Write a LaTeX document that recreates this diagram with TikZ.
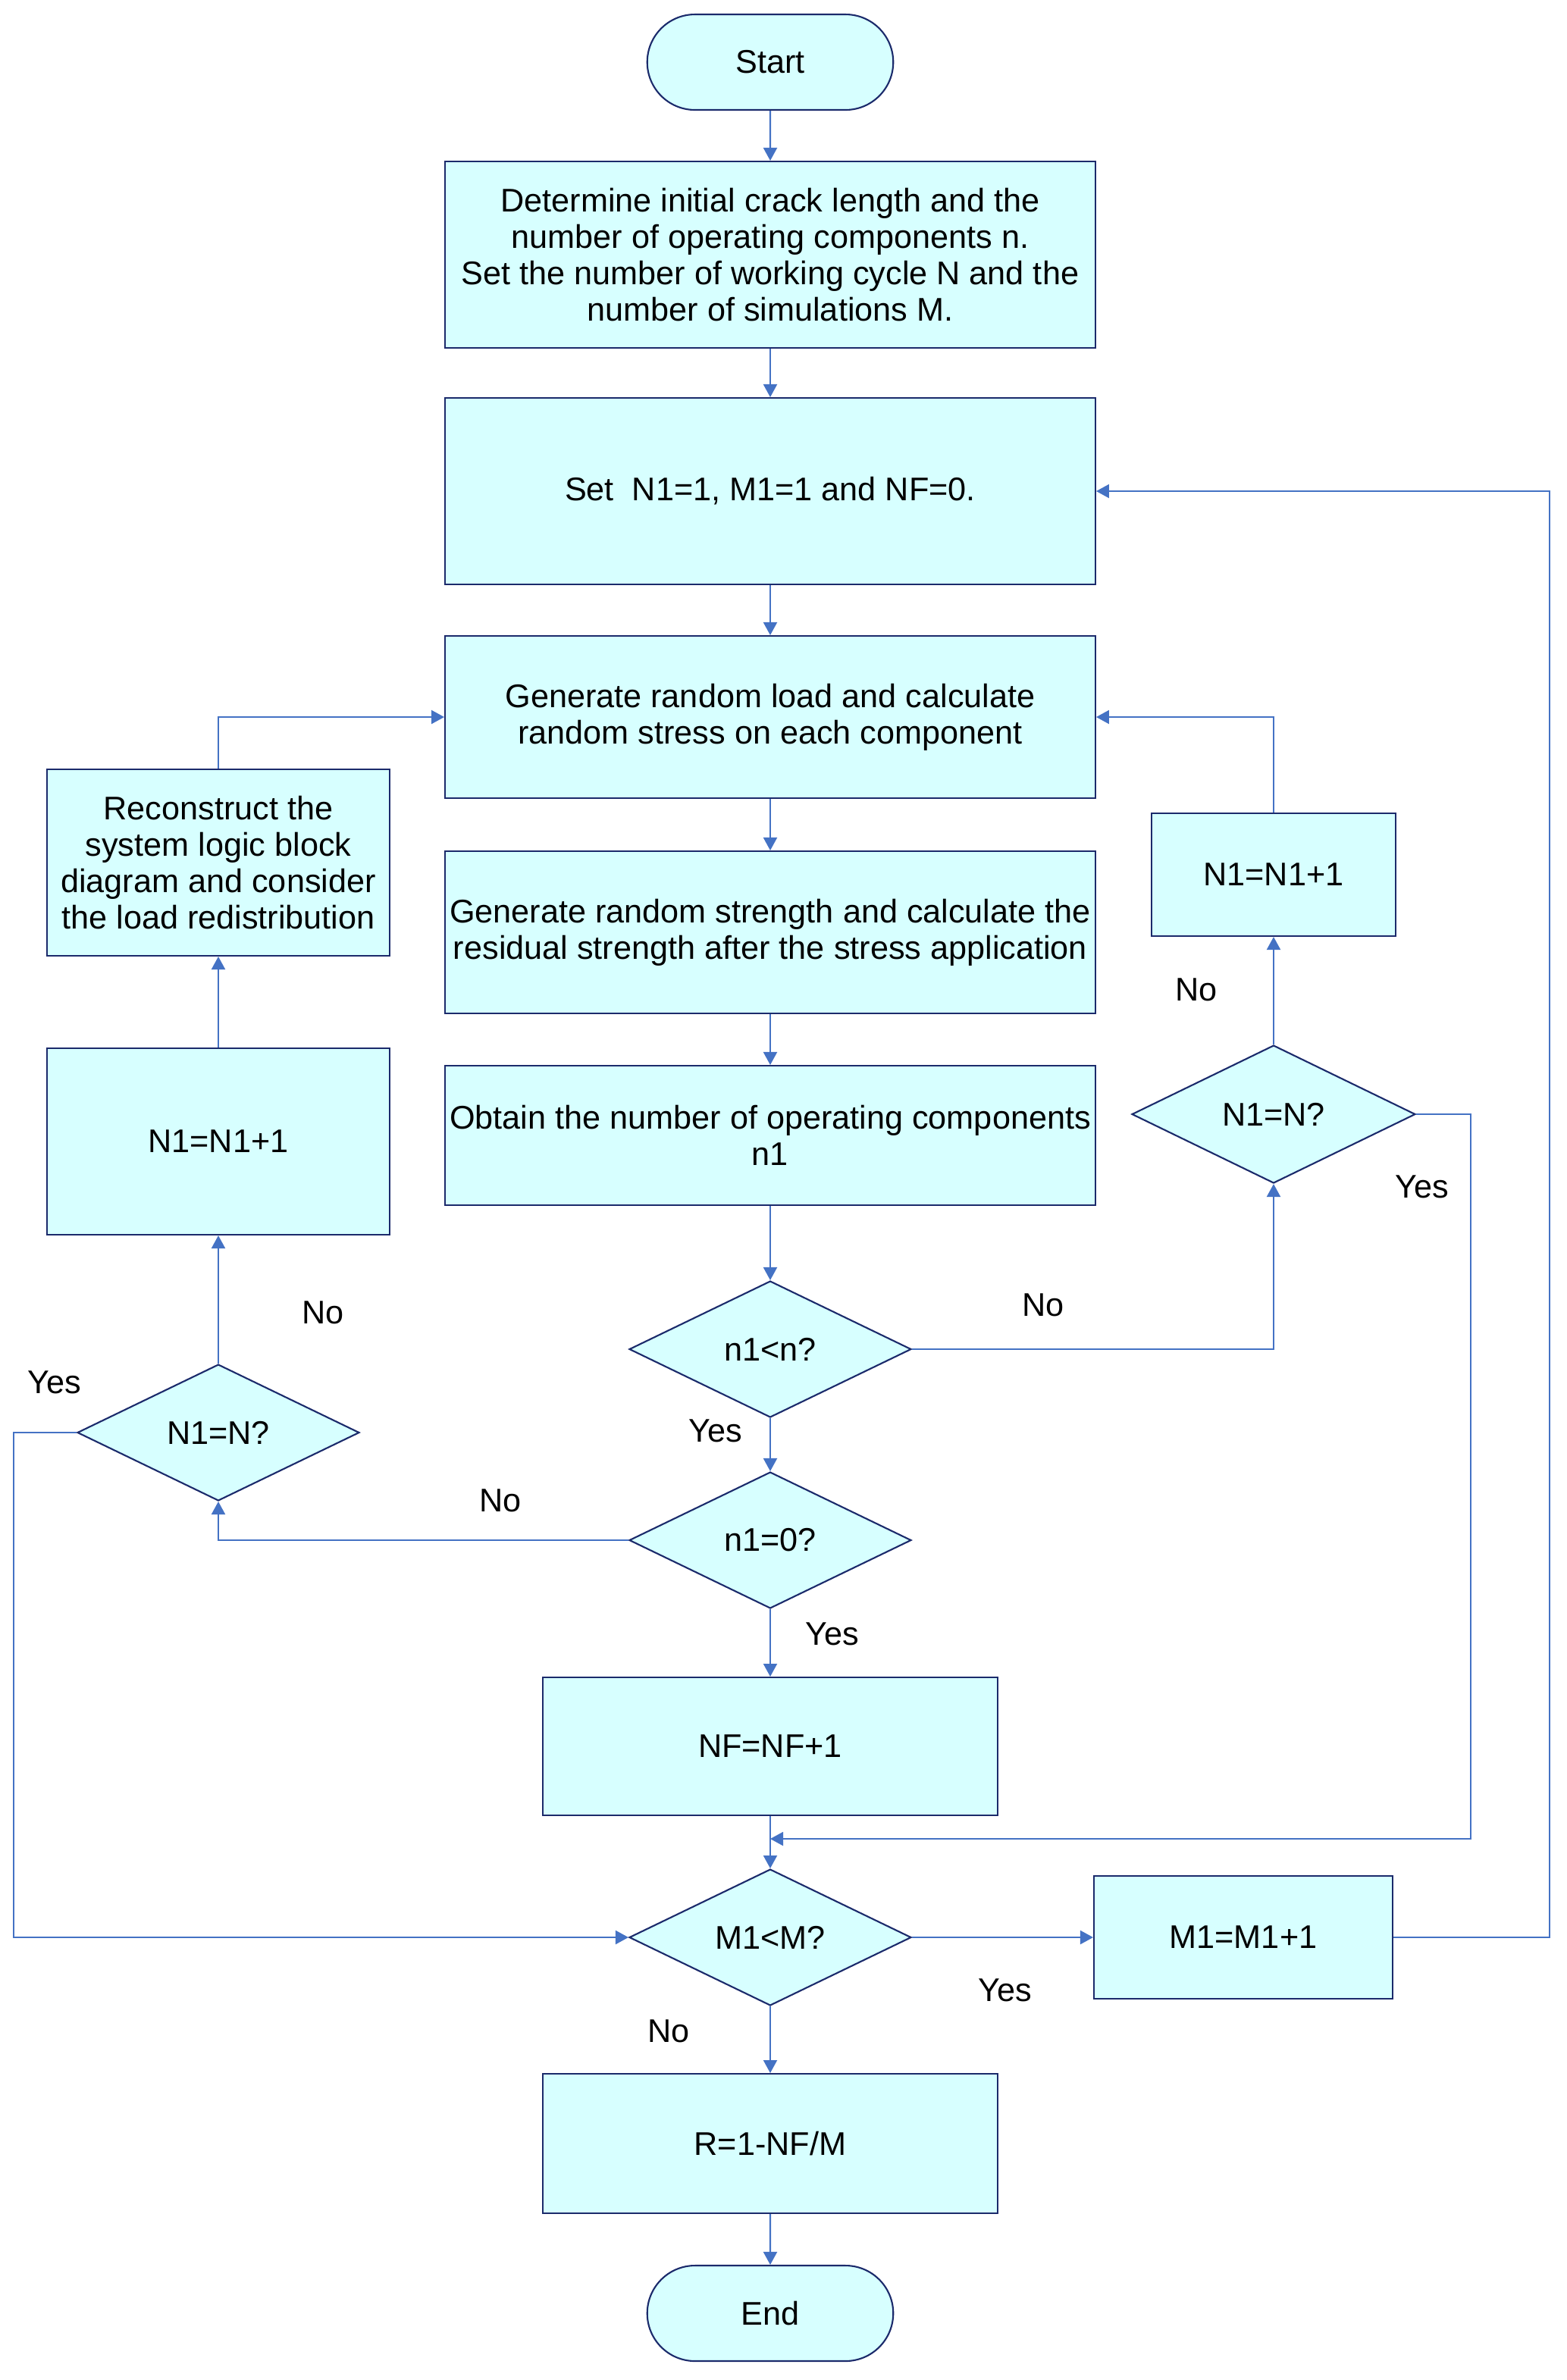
\documentclass[tikz,border=0pt]{standalone}
\usepackage{fontspec}
\setmainfont{Liberation Sans}
\usetikzlibrary{shapes.geometric,shapes.misc,arrows.meta}
\definecolor{boxfill}{HTML}{D7FFFF}
\definecolor{boxline}{HTML}{1B2A6B}
\definecolor{flow}{HTML}{4472C4}
\tikzset{
	proc/.style={rectangle,draw=boxline,fill=boxfill,line width=0.6pt,align=center,inner sep=1pt,font=\fontsize{12.3}{13.6}\selectfont},
	term/.style={rounded rectangle,draw=boxline,fill=boxfill,line width=0.6pt,minimum width=3.48cm,minimum height=1.26cm,font=\fontsize{12.3}{13.6}\selectfont},
	test/.style={diamond,draw=boxline,fill=boxfill,line width=0.6pt,inner sep=0pt,minimum width=3.72cm,minimum height=1.8cm,font=\fontsize{12.3}{13.6}\selectfont},
	lbl/.style={font=\fontsize{12.3}{13.6}\selectfont},
	->/.style={color=flow,line width=0.6pt,-{Triangle[width=1.8mm,length=1.7mm,fill=flow]}}
}
\begin{document}
\begin{tikzpicture}[x=0.02cm,y=-0.02cm]
		\useasboundingbox (0,0) rectangle (1033.5,1570);
		% main column
		\node[term] (start) at (508,41) {Start};
		\node[proc,minimum width=8.58cm,minimum height=2.46cm] (init) at (508,168) {Determine initial crack length and the\\number of operating components n.\\Set the number of working cycle N and the\\number of simulations M.};
		\node[proc,minimum width=8.58cm,minimum height=2.46cm] (set) at (508,324) {Set\ \ N1=1, M1=1 and NF=0.};
		\node[proc,minimum width=8.58cm,minimum height=2.14cm] (load) at (508,473) {Generate random load and calculate\\random stress on each component};
		\node[proc,minimum width=8.58cm,minimum height=2.14cm] (strength) at (508,615) {Generate random strength and calculate the\\residual strength after the stress application};
		\node[proc,minimum width=8.58cm,minimum height=1.84cm] (count) at (508,749) {Obtain the number of operating components\\n1};
		\node[test] (lessn) at (508,890) {n1<n?};
		\node[test] (zero) at (508,1016) {n1=0?};
		\node[proc,minimum width=6cm,minimum height=1.82cm] (fail) at (508,1152) {NF=NF+1};
		\node[test] (lessm) at (508,1278) {M1<M?};
		\node[proc,minimum width=6cm,minimum height=1.84cm] (rel) at (508,1414) {R=1-NF/M};
		\node[term] (end) at (508,1526) {End};
		% right side
		\node[test,minimum width=3.74cm,minimum height=1.82cm] (rcheck) at (840,735) {N1=N?};
		\node[proc,minimum width=3.22cm,minimum height=1.62cm] (rinc) at (840,577) {N1=N1+1};
		\node[proc,minimum width=3.94cm,minimum height=1.62cm] (minc) at (820,1278) {M1=M1+1};
		% left side
		\node[proc,minimum width=4.52cm,minimum height=2.46cm] (recon) at (144,569) {Reconstruct the\\system logic block\\diagram and consider\\the load redistribution};
		\node[proc,minimum width=4.52cm,minimum height=2.46cm] (linc) at (144,753) {N1=N1+1};
		\node[test] (lcheck) at (144,945) {N1=N?};
		\coordinate (merge) at (508,1213);
		% labels
		\node[lbl] (l1) at (688,861) {No};
		\node[lbl] (l2) at (789,653) {No};
		\node[lbl] (l3) at (938,783) {Yes};
		\node[lbl] (l4) at (330,990) {No};
		\node[lbl] (l5) at (472,944) {Yes};
		\node[lbl] (l6) at (549,1078) {Yes};
		\node[lbl] (l7) at (213,866) {No};
		\node[lbl] (l8) at (36,912) {Yes};
		\node[lbl] (l9) at (663,1313) {Yes};
		\node[lbl] (l10) at (441,1340) {No};
		% straight flow
		\path[->] (start) edge (init);
		\path[->] (init) edge (set);
		\path[->] (set) edge (load);
		\path[->] (load) edge (strength);
		\path[->] (strength) edge (count);
		\path[->] (count) edge (lessn);
		\path[->] (lessn) edge (zero);
		\path[->] (zero) edge (fail);
		\path[->] (fail) edge (lessm);
		\path[->] (lessm) edge (rel);
		\path[->] (rel) edge (end);
		\path[->] (rcheck) edge (rinc);
		\path[->] (lcheck) edge (linc);
		\path[->] (linc) edge (recon);
		\path[->] (lessm) edge (minc);
		% loops
		\draw[->] (lessn.east) -| (rcheck.south);
		\draw[->] (rinc.north) |- (load.east);
		\draw[->] (rcheck.east) -- (970,735) |- (merge);
		\draw[->] (zero.west) -| (lcheck.south);
		\draw[->] (recon.north) |- (load.west);
		\draw[->] (lcheck.west) -- (9,945) |- (lessm.west);
		\draw[->] (minc.east) -- (1022,1278) |- (set.east);
	\end{tikzpicture}
\end{document}
